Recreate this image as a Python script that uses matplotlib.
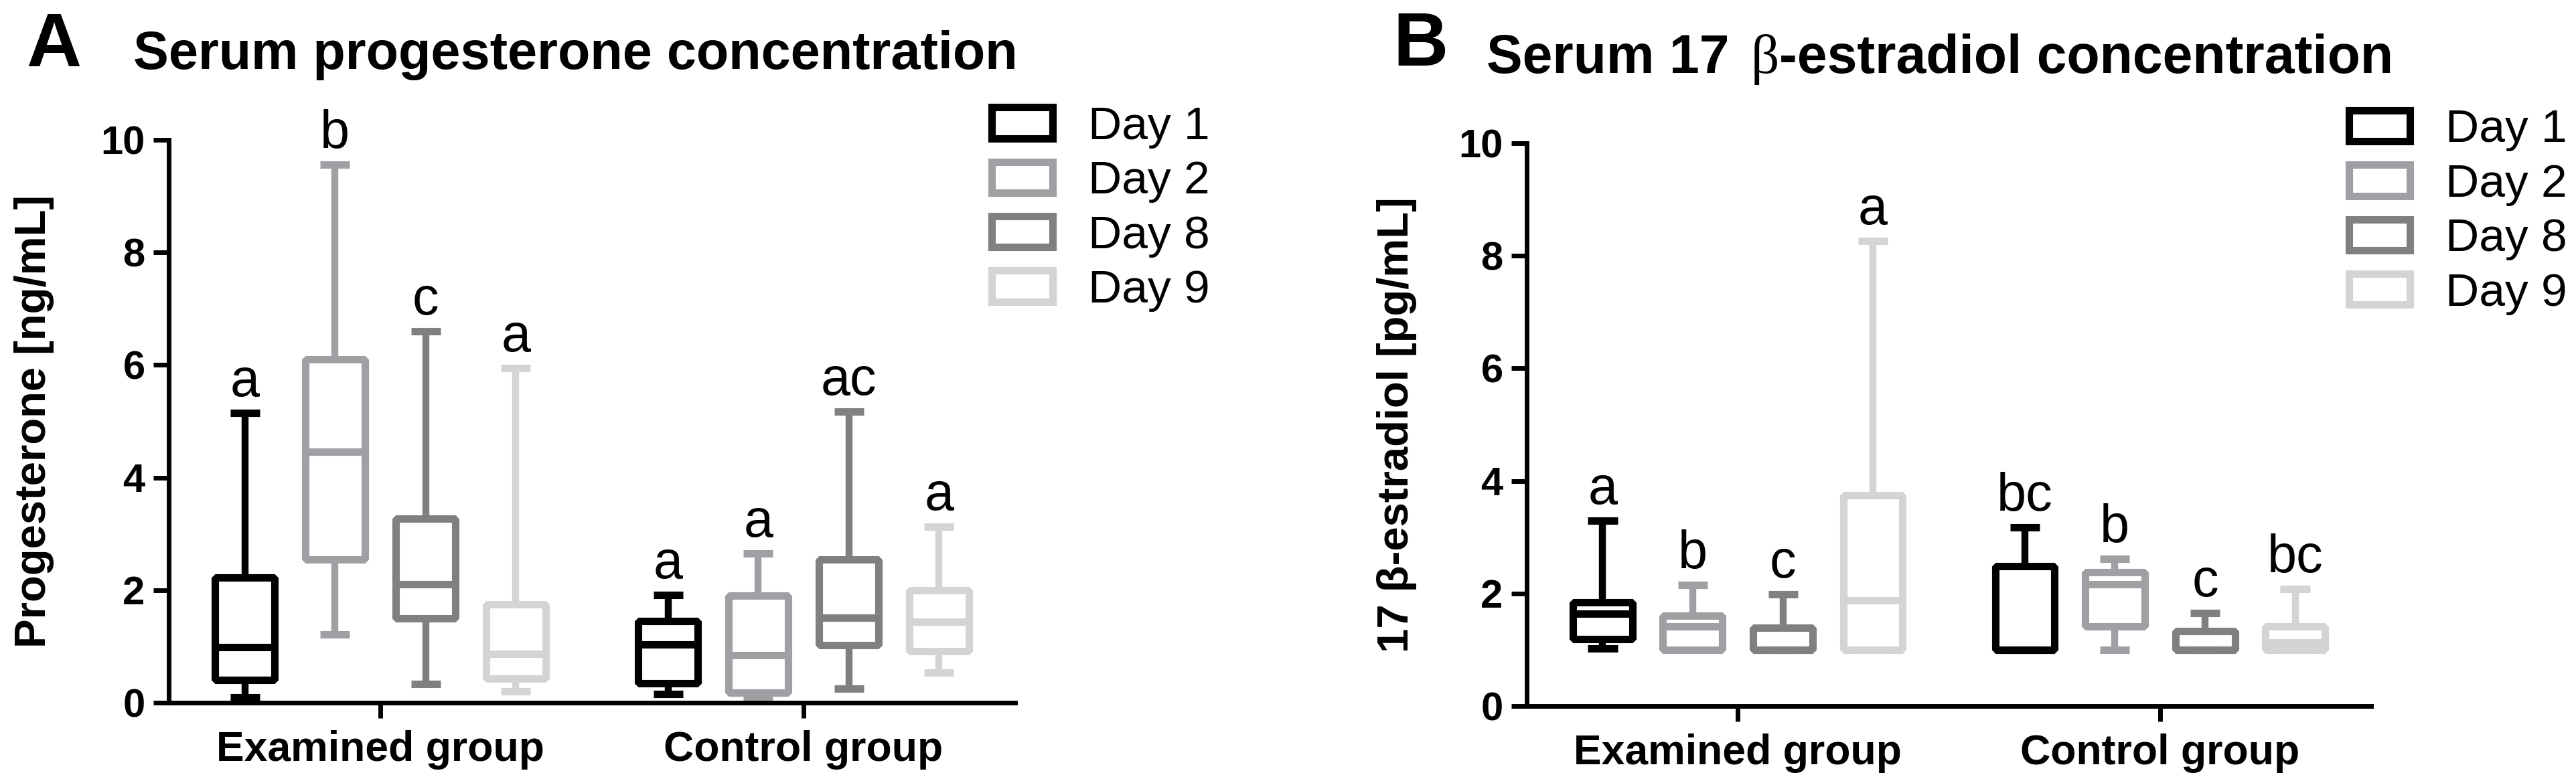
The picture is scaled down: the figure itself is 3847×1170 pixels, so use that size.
import matplotlib
matplotlib.use('Agg')
import matplotlib.pyplot as plt
from matplotlib.patches import Rectangle
from matplotlib.font_manager import FontProperties

W, H, DPI = 3848, 1170, 100

plt.rcParams['font.family'] = ['Liberation Sans', 'DejaVu Sans']

groups = ['Examined group', 'Control group']
days = ['Day 1', 'Day 2', 'Day 8', 'Day 9']
colors = ['#000000', '#a0a0a4', '#808080', '#d4d4d4']

# Progesterone [ng/mL]: first 4 = Examined (Day 1, 2, 8, 9), last 4 = Control
prog_min = [0.10, 1.21, 0.33, 0.20, 0.16, 0.10, 0.25, 0.54]
prog_q1  = [0.41, 2.54, 1.50, 0.43, 0.35, 0.18, 1.02, 0.92]
prog_med = [0.99, 4.46, 2.10, 0.87, 1.04, 0.85, 1.51, 1.44]
prog_q3  = [2.22, 6.10, 3.27, 1.75, 1.45, 1.90, 2.55, 2.00]
prog_max = [5.15, 9.56, 6.60, 5.94, 1.92, 2.65, 5.17, 3.13]
prog_letters = ['a', 'b', 'c', 'a', 'a', 'a', 'ac', 'a']

# 17 beta-estradiol [pg/mL]
estr_min = [1.02, 1.00, 1.00, 1.00, 1.00, 1.00, 1.00, 1.00]
estr_q1  = [1.19, 1.00, 1.00, 1.00, 1.00, 1.41, 1.00, 1.00]
estr_med = [1.64, 1.41, 1.00, 1.88, 1.00, 2.17, 1.00, 1.13]
estr_q3  = [1.84, 1.60, 1.39, 3.75, 2.48, 2.38, 1.33, 1.41]
estr_max = [3.29, 2.15, 1.98, 8.26, 3.17, 2.61, 1.65, 2.08]
estr_letters = ['a', 'b', 'c', 'a', 'bc', 'b', 'c', 'bc']

yticks = [0, 2, 4, 6, 8, 10]
offsets = [-0.32, -0.107, 0.107, 0.32]

fig = plt.figure(figsize=(W / DPI, H / DPI), dpi=DPI)
axA = fig.add_axes([252 / W, 1 - 1050 / H, 1264 / W, 841 / H])
axB = fig.add_axes([2280 / W, 1 - 1055 / H, 1261 / W, 841 / H])


def draw_panel(ax, vmin, q1, med, q3, vmax, letters):
    for d in range(4):
        stats, pos = [], []
        for g in range(2):
            i = g * 4 + d
            stats.append(dict(med=med[i], q1=q1[i], q3=q3[i],
                              whislo=vmin[i], whishi=vmax[i], fliers=[]))
            pos.append(g + offsets[d])
        c = colors[d]
        ax.bxp(stats, positions=pos, widths=0.141, capwidths=0.07,
               showfliers=False, patch_artist=True,
               boxprops=dict(facecolor='none', edgecolor=c, linewidth=8,
                             joinstyle='bevel', zorder=3),
               whiskerprops=dict(color=c, linewidth=7.5, solid_capstyle='butt', zorder=2),
               capprops=dict(color=c, linewidth=8, solid_capstyle='butt', zorder=2),
               medianprops=dict(color=c, linewidth=8, solid_capstyle='butt', zorder=3),
               manage_ticks=False)
        for g in range(2):
            i = g * 4 + d
            ax.annotate(letters[i], xy=(g + offsets[d], vmax[i]), xytext=(0, 18),
                        textcoords='offset points', ha='center', va='baseline',
                        fontsize=57, color='black')
    ax.set_xlim(-0.5, 1.5)
    ax.set_ylim(0, 10)
    for s in ['top', 'right']:
        ax.spines[s].set_visible(False)
    for s in ['left', 'bottom']:
        ax.spines[s].set_linewidth(5)
    ax.spines['left'].set_bounds(0, 10)
    ax.set_yticks(yticks)
    ax.set_xticks([0, 1])
    ax.set_xticklabels(groups)
    ax.tick_params(axis='both', length=16.5, width=5, direction='out')
    ax.tick_params(axis='y', pad=9, labelsize=43)
    ax.tick_params(axis='x', pad=13, labelsize=45)
    for lab in ax.get_yticklabels() + ax.get_xticklabels():
        lab.set_fontweight('bold')
    handles = [Rectangle((0, 0), 1, 1, facecolor='white', edgecolor=c,
                         linewidth=8, joinstyle='bevel') for c in colors]
    return handles


hA = draw_panel(axA, prog_min, prog_q1, prog_med, prog_q3, prog_max, prog_letters)
hB = draw_panel(axB, estr_min, estr_q1, estr_med, estr_q3, estr_max, estr_letters)

axA.set_ylabel('Progesterone [ng/mL]', fontsize=47, fontweight='bold')
axA.yaxis.set_label_coords(-0.135, 0.5)
axB.set_ylabel('17 β-estradiol [pg/mL]', fontsize=47, fontweight='bold')
axB.yaxis.set_label_coords(-0.13, 0.5)

legprop = FontProperties(family='Liberation Sans', size=50)
for ax, h, x0, yc in [(axA, hA, 1481.5, 312), (axB, hB, 3508.5, 316.5)]:
    ax.legend(h, days, loc='center left', bbox_to_anchor=(x0 / W, 1 - yc / H),
              bbox_transform=fig.transFigure, frameon=False, borderpad=0,
              borderaxespad=0, handlelength=1.31, handleheight=0.65,
              handletextpad=0.75, labelspacing=0.25, prop=legprop)

# Titles
fig.text(39 / W, 1 - 99 / H, 'A', fontsize=82, fontweight='bold', va='baseline')
fig.text(199 / W, 1 - 103 / H, 'Serum progesterone concentration',
         fontsize=57, fontweight='bold', va='baseline')
fig.text(2080 / W, 1 - 98 / H, 'B', fontsize=82, fontweight='bold', va='baseline')

renderer = fig.canvas.get_renderer()
xcur = 2220
for piece, weight, fam, size, gap in [('Serum 17 ', 'bold', ['Liberation Sans'], 58, 0),
                                      ('β', 'normal', ['Liberation Serif'], 60, 10),
                                      ('-estradiol concentration', 'bold', ['Liberation Sans'], 58, 0)]:
    xcur += gap
    t = fig.text(xcur / W, 1 - 109 / H, piece, fontsize=size, fontweight=weight,
                 family=fam + ['DejaVu Sans'], va='baseline')
    bb = t.get_window_extent(renderer)
    xcur = bb.x1

fig.savefig('out.png', dpi=DPI)
